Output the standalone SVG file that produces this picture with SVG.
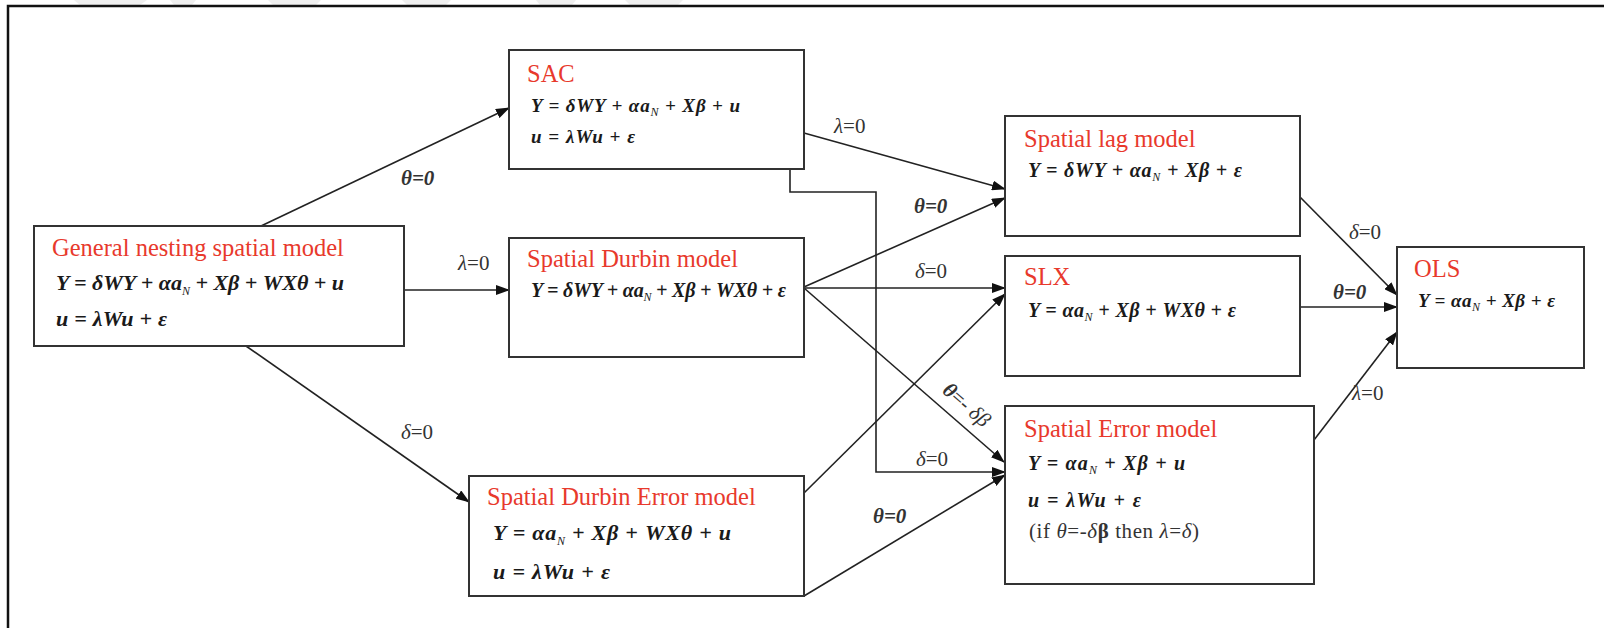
<svg xmlns="http://www.w3.org/2000/svg" width="1604" height="628" viewBox="0 0 1604 628">
<defs>
<marker id="ah" markerUnits="userSpaceOnUse" markerWidth="14" markerHeight="10" refX="13" refY="5" orient="auto">
<path d="M0,0 L14,5 L0,10 z" fill="#111"/>
</marker>
<style>
.box{fill:#fff;stroke:#333;stroke-width:2}
.title{font-family:"Liberation Serif",serif;font-size:24.5px;fill:#e8392c}
.eq{font-family:"Liberation Serif",serif;font-weight:bold;font-style:italic;fill:#1a1a1a}
.sub{font-size:12px;font-weight:normal}
.lbl{font-family:"Liberation Serif",serif;font-size:21px;fill:#333}
.lbi{font-family:"Liberation Serif",serif;font-size:21px;font-weight:bold;font-style:italic;fill:#333}
.it{font-style:italic}
.conn{fill:none;stroke:#222;stroke-width:1.6;marker-end:url(#ah)}
.frame{fill:none;stroke:#111;stroke-width:2.5}
.wm{fill:#efefef}
</style>
</defs>
<rect width="1604" height="628" fill="#fff"/>
<g id="watermark">
<polygon class="wm" points="74,0 147,0 140,5 80,5"/>
<polygon class="wm" points="170,0 196,0 192,5 174,5"/>
<polygon class="wm" points="268,0 321,0 316,5 273,5"/>
<polygon class="wm" points="402,0 451,0 446,5 407,5"/>
<polygon class="wm" points="536,0 576,0 572,5 540,5"/>
<polygon class="wm" points="625,0 683,0 678,5 630,5"/>
</g>
<path class="frame" d="M8,628 L8,6 L1604,6"/>

<g id="connectors">
<path class="conn" d="M261,226 L509,108"/>
<path class="conn" d="M404,290 L509,290"/>
<path class="conn" d="M246,346 L469,502"/>
<path class="conn" d="M804,133 L1005,189"/>
<path class="conn" d="M790,169 L790,192 L876,192 L876,472 L1005,472"/>
<path class="conn" d="M804,287 L1005,198"/>
<path class="conn" d="M804,288 L1005,288"/>
<path class="conn" d="M804,288 L1004,462"/>
<path class="conn" d="M804,493 L1005,294"/>
<path class="conn" d="M804,596 L1005,475"/>
<path class="conn" d="M1300,197 L1397,295"/>
<path class="conn" d="M1300,307 L1397,307"/>
<path class="conn" d="M1314,440 L1397,332"/>
<text class="lbi" x="401" y="185">θ=0</text>
<text class="lbl" x="458" y="270"><tspan class="it">λ</tspan>=0</text>
<text class="lbl" x="401" y="439"><tspan class="it">δ</tspan>=0</text>
<text class="lbl" x="834" y="133"><tspan class="it">λ</tspan>=0</text>
<text class="lbl" x="916" y="466"><tspan class="it">δ</tspan>=0</text>
<text class="lbi" x="914" y="213">θ=0</text>
<text class="lbl" x="915" y="278"><tspan class="it">δ</tspan>=0</text>
<text class="lbl" transform="translate(962,410) rotate(41)" text-anchor="middle"><tspan class="it" font-weight="bold">θ</tspan>=- <tspan class="it">δβ</tspan></text>
<text class="lbi" x="873" y="523">θ=0</text>
<text class="lbl" x="1349" y="239"><tspan class="it">δ</tspan>=0</text>
<text class="lbi" x="1333" y="299">θ=0</text>
<text class="lbl" x="1352" y="400"><tspan class="it">λ</tspan>=0</text>
</g>

<g id="gnsm">
<rect class="box" x="34" y="226" width="370" height="120"/>
<text class="title" x="52" y="256">General nesting spatial model</text>
<text class="eq" x="56" y="290" font-size="22" textLength="288" lengthAdjust="spacing">Y = δWY + αa<tspan class="sub" dy="5">N</tspan><tspan dy="-5"> + Xβ + WXθ + u</tspan></text>
<text class="eq" x="56" y="326" font-size="22" textLength="111" lengthAdjust="spacing">u = λWu + ε</text>
</g>

<g id="sac">
<rect class="box" x="509" y="50" width="295" height="119"/>
<text class="title" x="527" y="82">SAC</text>
<text class="eq" x="531" y="112" font-size="19" textLength="209" lengthAdjust="spacing">Y = δWY + αa<tspan class="sub" dy="4">N</tspan><tspan dy="-4"> + Xβ + u</tspan></text>
<text class="eq" x="531" y="143" font-size="19" textLength="104" lengthAdjust="spacing">u = λWu + ε</text>
</g>

<g id="sdm">
<rect class="box" x="509" y="238" width="295" height="119"/>
<text class="title" x="527" y="267">Spatial Durbin model</text>
<text class="eq" x="531" y="297" font-size="20" textLength="255" lengthAdjust="spacing">Y = δWY + αa<tspan class="sub" dy="4">N</tspan><tspan dy="-4"> + Xβ + WXθ + ε</tspan></text>
</g>

<g id="sdem">
<rect class="box" x="469" y="476" width="335" height="120"/>
<text class="title" x="487" y="505">Spatial Durbin Error model</text>
<text class="eq" x="493" y="540" font-size="22" textLength="238" lengthAdjust="spacing">Y = αa<tspan class="sub" dy="5">N</tspan><tspan dy="-5"> + Xβ + WXθ + u</tspan></text>
<text class="eq" x="493" y="579" font-size="22" textLength="117" lengthAdjust="spacing">u = λWu + ε</text>
</g>

<g id="slm">
<rect class="box" x="1005" y="116" width="295" height="120"/>
<text class="title" x="1024" y="147">Spatial lag model</text>
<text class="eq" x="1028" y="177" font-size="20" textLength="214" lengthAdjust="spacing">Y = δWY + αa<tspan class="sub" dy="4">N</tspan><tspan dy="-4"> + Xβ + ε</tspan></text>
</g>

<g id="slx">
<rect class="box" x="1005" y="256" width="295" height="120"/>
<text class="title" x="1024" y="285">SLX</text>
<text class="eq" x="1028" y="317" font-size="20" textLength="208" lengthAdjust="spacing">Y = αa<tspan class="sub" dy="4">N</tspan><tspan dy="-4"> + Xβ + WXθ + ε</tspan></text>
</g>

<g id="sem">
<rect class="box" x="1005" y="406" width="309" height="178"/>
<text class="title" x="1024" y="437">Spatial Error model</text>
<text class="eq" x="1028" y="470" font-size="20" textLength="157" lengthAdjust="spacing">Y = αa<tspan class="sub" dy="4">N</tspan><tspan dy="-4"> + Xβ + u</tspan></text>
<text class="eq" x="1028" y="507" font-size="20" textLength="113" lengthAdjust="spacing">u = λWu + ε</text>
<text class="lbl" x="1029" y="538" font-size="18" textLength="170" lengthAdjust="spacing">(if <tspan class="it">θ</tspan>=-<tspan class="it">δ</tspan><tspan font-weight="bold">β</tspan> then <tspan class="it">λ</tspan>=<tspan class="it">δ</tspan>)</text>
</g>

<g id="ols">
<rect class="box" x="1397" y="247" width="187" height="121"/>
<text class="title" x="1414" y="277">OLS</text>
<text class="eq" x="1418" y="307" font-size="19" textLength="137" lengthAdjust="spacing">Y = αa<tspan class="sub" dy="4">N</tspan><tspan dy="-4"> + Xβ + ε</tspan></text>
</g>
</svg>
